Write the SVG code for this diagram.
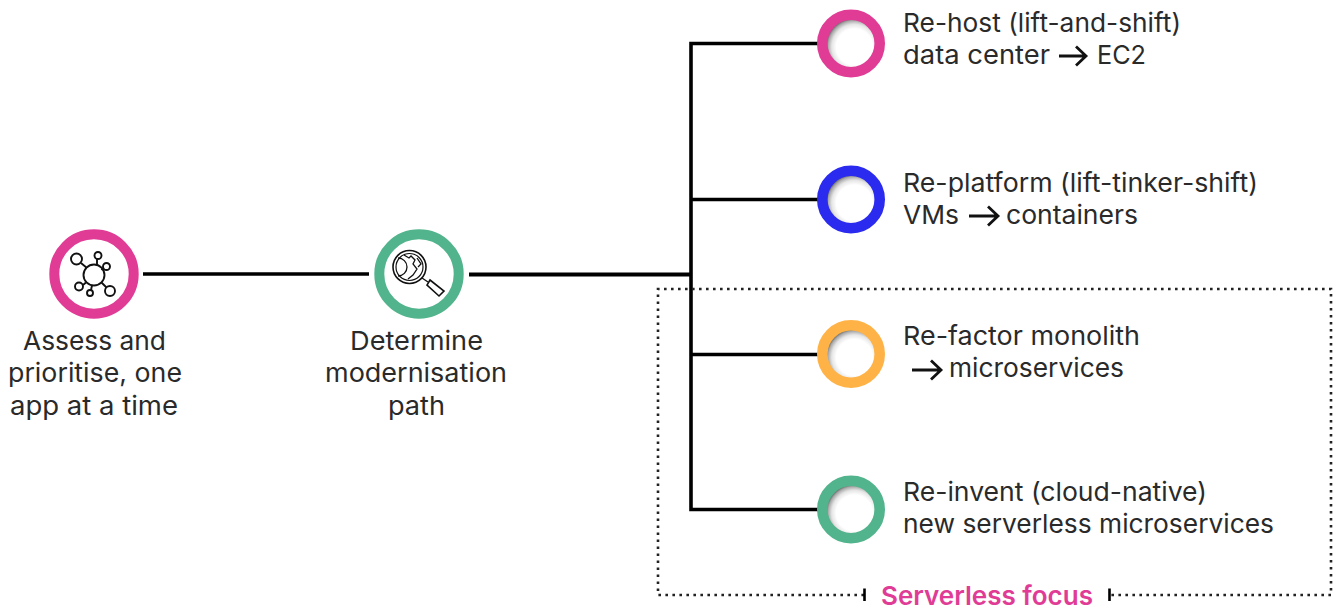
<svg xmlns="http://www.w3.org/2000/svg" width="1341" height="612" viewBox="0 0 1341 612">
<style>
text{font-family:Inter,"Noto Sans","Liberation Sans",sans-serif;font-size:26px;fill:#2a2a2a;font-weight:400}
.c{text-anchor:middle}
.line{fill:none;stroke:#000;stroke-width:3.6}
.thick{stroke-width:4.2}
.dot{fill:none;stroke:#222;stroke-width:2.6;stroke-dasharray:2.6 4.4}
.tick{stroke:#000;stroke-width:2.6}
.ring{fill:url(#hole);stroke-width:10.6}
.big{fill:#fff;stroke-width:10}
.ico{fill:none;stroke:#111;stroke-width:1.9}
.ico2{fill:none;stroke:#111;stroke-width:1.2}
.arr{fill:none;stroke:#111;stroke-width:2.8}
</style>
<defs>
<radialGradient id="hole" cx="0.56" cy="0.56" r="0.493">
<stop offset="0" stop-color="#fff"/><stop offset="0.64" stop-color="#fff"/><stop offset="0.8" stop-color="#e6e6e6"/><stop offset="0.93" stop-color="#aaa"/><stop offset="1" stop-color="#6f6f6f"/>
</radialGradient>
</defs>
<g id="connectors">
<path class="line" d="M143 274H369"/>
<path class="line thick" d="M469 274.500H691"/>
<path class="line" d="M818 43.500H691V509.500H818M691 199.500H818M691 354.500H818"/>
</g>
<g id="serverless-focus">
<path class="dot" d="M864 595H658V289H1331V595H1109"/>
<path class="tick" d="M864.500 588.500V601M1109.500 588.500V601"/>
<text x="881" y="605" textLength="212" lengthAdjust="spacingAndGlyphs" style="fill:#e03c96;font-weight:600">Serverless focus</text>
</g>
<g id="assess">
<circle class="big" cx="94" cy="274" r="39.700" stroke="#e03c96"/>
<g class="ico">
<circle cx="94" cy="275" r="10.500"/>
<circle cx="76.500" cy="259" r="5.500"/><circle cx="98" cy="255.500" r="3.500"/><circle cx="106.500" cy="266.500" r="3.500"/>
<circle cx="79" cy="286.500" r="4"/><circle cx="90" cy="293" r="3"/><circle cx="110" cy="291" r="5"/>
<path d="M81 263L87 268M97 259V265M103.500 268L101.500 270M83 285L86 282.500M91 290L92 285.500M106.500 287.500L101.500 282.500"/>
</g>
<text class="c" x="94.500" y="350" textLength="143" lengthAdjust="spacingAndGlyphs">Assess and</text>
<text class="c" x="95" y="382" textLength="174" lengthAdjust="spacingAndGlyphs">prioritise, one</text>
<text class="c" x="94" y="415" textLength="168" lengthAdjust="spacingAndGlyphs">app at a time</text>
</g>
<g id="determine">
<circle class="big" cx="419" cy="274" r="39.700" stroke="#52b48c"/>
<g class="ico2">
<circle cx="409.500" cy="267" r="16.500" stroke-width="1.600"/>
<circle cx="409.500" cy="267" r="13.500"/>
<path d="M398 258A9 9 0 0 1 398 276M404 255L409 258L411 256L415 260L413 264L417 269L413 275L408 279M417 258L421 264L418 267" stroke-width="1.300"/>
<path d="M422 278L428 282" stroke-width="1.400"/>
<path d="M430 280L444 291L439 296L427 285Z" stroke-width="1.600"/>
</g>
<text class="c" x="416.500" y="350" textLength="133" lengthAdjust="spacingAndGlyphs">Determine</text>
<text class="c" x="416" y="382" textLength="182" lengthAdjust="spacingAndGlyphs">modernisation</text>
<text class="c" x="416.500" y="415" textLength="57" lengthAdjust="spacingAndGlyphs">path</text>
</g>
<g id="rehost">
<circle class="ring" cx="851" cy="43.500" r="28.700" stroke="#e03c96"/>
<text x="903" y="32" textLength="278" lengthAdjust="spacingAndGlyphs">Re-host (lift-and-shift)</text>
<text x="903" y="64" textLength="147" lengthAdjust="spacingAndGlyphs">data center</text>
<path class="arr" d="M1059 56H1086M1076 46.500L1086 56L1076 65.500"/>
<text x="1097" y="64" textLength="49" lengthAdjust="spacingAndGlyphs">EC2</text>
</g>
<g id="replatform">
<circle class="ring" cx="851" cy="199.500" r="28.700" stroke="#2b2bf0"/>
<text x="903" y="192" textLength="355" lengthAdjust="spacingAndGlyphs">Re-platform (lift-tinker-shift)</text>
<text x="903" y="224" textLength="56" lengthAdjust="spacingAndGlyphs">VMs</text>
<path class="arr" d="M969 216H998M988 206.500L998 216L988 225.500"/>
<text x="1006" y="224" textLength="132" lengthAdjust="spacingAndGlyphs">containers</text>
</g>
<g id="refactor">
<circle class="ring" cx="851" cy="354" r="28.700" stroke="#ffb347"/>
<text x="903" y="345" textLength="237" lengthAdjust="spacingAndGlyphs">Re-factor monolith</text>
<path class="arr" d="M912 370H941M931 360.500L941 370L931 379.500"/>
<text x="949" y="377" textLength="175" lengthAdjust="spacingAndGlyphs">microservices</text>
</g>
<g id="reinvent">
<circle class="ring" cx="851" cy="509.500" r="28.700" stroke="#52b48c"/>
<text x="903" y="501" textLength="304" lengthAdjust="spacingAndGlyphs">Re-invent (cloud-native)</text>
<text x="903" y="533" textLength="371" lengthAdjust="spacingAndGlyphs">new serverless microservices</text>
</g>
</svg>
